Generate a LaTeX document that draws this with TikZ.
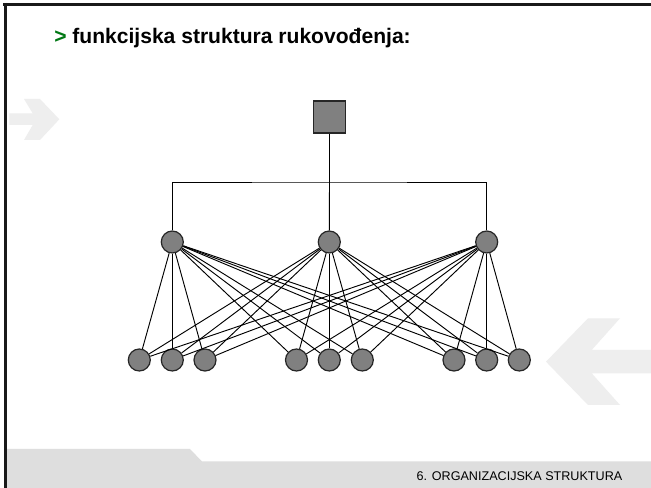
\documentclass[tikz,border=0pt]{standalone}
\usepackage{fontspec}
\setmainfont{Liberation Sans}
\usepackage{xcolor}
\usepackage{tikz}
\usetikzlibrary{positioning,calc}
\definecolor{zelena}{RGB}{0,120,20}
\definecolor{sivaTraka}{RGB}{222,222,222}
\definecolor{sivaStrelica}{RGB}{238,238,238}
\definecolor{sivaCvor}{RGB}{128,128,128}

\begin{document}
\begin{tikzpicture}[x=0.75pt,y=-0.75pt,
	sef/.style={draw=black!85,fill=sivaCvor,line width=0.9pt,minimum size=24pt,inner sep=0pt},
	krug/.style={circle,draw=black!85,fill=sivaCvor,line width=0.9pt,minimum size=16.5pt,inner sep=0pt},
	veza/.style={line width=0.7pt}]
	\useasboundingbox (0,0) rectangle (651,488);
	\fill[white] (0,0) rectangle (651,488);
	
	% pozadinske strelice
	\fill[sivaStrelica] (9.3,113.3) -- (32.7,113.3) -- (24,99) -- (40,99) -- (59.3,119.3)
		-- (40,140) -- (24,140) -- (32.7,125) -- (9.3,125) -- cycle;
	\fill[sivaStrelica] (546,361.7) -- (588,318.3) -- (620,318.3) -- (591.7,350) -- (651,350)
		-- (651,373.3) -- (591.7,373.3) -- (620,405) -- (588,405) -- cycle;
	
	% donja traka
	\fill[sivaTraka] (5,449) -- (190,449) -- (202,461.5) -- (651,461.5) -- (651,488) -- (5,488) -- cycle;
	\node[font=\fontsize{9.45pt}{11pt}\selectfont,anchor=base east] (podnozje) at (627,481) {6. ORGANIZACIJSKA STRUKTURA};
	
	% okvir
	\draw[black!90,line width=1.9pt] (3,4.5) -- (651,4.5);
	\draw[black!90,line width=1.9pt] (5.3,3) -- (5.3,488);
	
	% naslov
	\node[font=\fontsize{15.8pt}{18pt}\selectfont\bfseries,anchor=base west,inner sep=0pt] (naslov) at (54,44)
		{\textcolor{zelena}{>} funkcijska struktura rukovođenja:};
	
	% rukovoditelj
	\node[sef] (vrh) at (329.5,117) {};
	\coordinate (bus) at (329.5,182);
	
	% funkcijski rukovoditelji
	\foreach \i/\x in {1/172.3,2/329.3,3/486.7} {
		\node[krug] (f\i) at (\x,242) {};
	}
	
	% izvrsitelji
	\foreach \j/\x in {1/139.3,2/172.3,3/205,4/296.5,5/329.3,6/362.3,7/454,8/486.7,9/519.3} {
		\node[krug] (r\j) at (\x,360) {};
	}
	
	\draw[veza] (vrh) -- (bus);
	\draw[veza] (f1) |- (bus) -| (f3);
	\draw[veza] (bus) -- (f2);
	\foreach \i in {1,2,3} {
		\foreach \j in {1,...,9} {
			\draw[veza] (f\i) -- (r\j);
		}
	}
\end{tikzpicture}
\end{document}
